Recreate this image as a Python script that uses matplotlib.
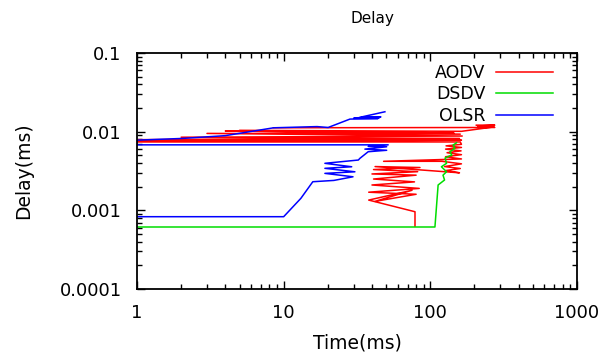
import matplotlib
matplotlib.use("Agg")
import matplotlib.pyplot as plt
from matplotlib.ticker import FixedLocator, NullFormatter, LogLocator

# AODV: time (ms), delay (ms) in file order (gnuplot joins them as listed)
aodv_time = [8.5, 275, 205, 275, 210, 272,
             163, 5.0, 145, 4.0, 160, 3.0, 165, 2.0, 158, 1, 150, 1, 163, 1, 160,
             163, 128, 163, 127, 162, 130, 163, 127, 163,
             48, 120,
             163, 125, 160, 127, 158,
             42, 85, 41, 82, 40, 80, 41, 78, 40, 84, 38, 80, 42, 75, 38, 78.6, 78.6]
aodv_delay = [0.0112, 0.0113, 0.0121, 0.0121, 0.0118, 0.0115,
              0.0101, 0.0104, 0.0096, 0.0102, 0.0093, 0.0095, 0.0088, 0.0085, 0.0082,
              0.0079, 0.0080, 0.0077, 0.0078, 0.0074, 0.0074,
              0.0069, 0.0066, 0.0063, 0.0060, 0.0057, 0.0054, 0.0051, 0.0048, 0.0045,
              0.0042, 0.0042,
              0.0039, 0.0036, 0.0034, 0.0032, 0.0030,
              0.0036, 0.0035, 0.0033, 0.0031, 0.0029, 0.0028, 0.0025, 0.0023, 0.0021,
              0.0019, 0.0017, 0.0016, 0.0013, 0.0018, 0.00135, 0.00096, 0.00063]

dsdv_time = [1, 107.5, 113, 125, 122, 129, 119, 129, 126, 140, 136, 147, 143, 151]
dsdv_delay = [0.000614, 0.000614, 0.0021, 0.00243, 0.0028, 0.00309, 0.00358, 0.00396,
              0.00462, 0.00504, 0.00556, 0.00614, 0.00676, 0.00723]

olsr_time = [1, 10, 13.1, 15.8, 22, 29.7, 19.1, 30.6, 19.1, 29.1, 19.1, 32.3, 33.1, 37.7,
             50.4, 35.8, 50.4, 37.7, 51.6,
             1, 1, 2.03, 4.0, 8.54, 16.9, 20.1, 28.3, 44, 30, 45, 31, 46, 33, 49]
olsr_delay = [0.00083, 0.00083, 0.00142, 0.00231, 0.0024, 0.00267, 0.00295, 0.00309, 0.00342,
              0.00358, 0.00396, 0.00436, 0.00458, 0.00556, 0.0058, 0.0060, 0.00643, 0.0065,
              0.0068,
              0.0068, 0.0078, 0.0082, 0.0089, 0.0112, 0.0116, 0.0113, 0.01445, 0.0147, 0.0148,
              0.0151, 0.0150, 0.0154, 0.0152, 0.0179]

x_ticks = [1, 10, 100, 1000]
x_labels = ["1", "10", "100", "1000"]
y_ticks = [0.0001, 0.001, 0.01, 0.1]
y_labels = ["0.0001", "0.001", "0.01", "0.1"]

fig = plt.figure(figsize=(6.15, 3.54), dpi=100)
ax = fig.add_axes([137 / 615, 1 - 289 / 354, 440 / 615, 236 / 354])

ax.plot(aodv_time, aodv_delay, color="#ff0000", lw=1.1, label="AODV")
ax.plot(dsdv_time, dsdv_delay, color="#00dd00", lw=1.1, label="DSDV")
ax.plot(olsr_time, olsr_delay, color="#0000ff", lw=1.1, label="OLSR")

ax.set_xscale("log")
ax.set_yscale("log")
ax.set_xlim(1, 1000)
ax.set_ylim(0.0001, 0.1)

ax.xaxis.set_major_locator(FixedLocator(x_ticks))
ax.set_xticklabels(x_labels)
ax.yaxis.set_major_locator(FixedLocator(y_ticks))
ax.set_yticklabels(y_labels)
ax.xaxis.set_minor_locator(LogLocator(base=10, subs=range(2, 10)))
ax.yaxis.set_minor_locator(LogLocator(base=10, subs=range(2, 10)))
ax.xaxis.set_minor_formatter(NullFormatter())
ax.yaxis.set_minor_formatter(NullFormatter())

ax.tick_params(which="both", direction="in", top=True, right=True, width=1.0)
ax.tick_params(which="major", length=6, labelsize=13, pad=11)
ax.tick_params(which="minor", length=3.5)
for s in ax.spines.values():
    s.set_linewidth(1.3)

ax.set_xlabel("Time(ms)", fontsize=13.5, labelpad=8)
ax.set_ylabel("Delay(ms)", fontsize=13.5, labelpad=19)
fig.text(372 / 615, 1 - 19 / 354, "Delay", ha="center", va="center", fontsize=11)

ax.legend(loc="upper right", bbox_to_anchor=(0.946, 0.955), frameon=False,
          markerfirst=False, fontsize=12.5, handlelength=3.3, handletextpad=0.6,
          labelspacing=0.22, borderpad=0, borderaxespad=0)

fig.savefig("out.png", dpi=100)
